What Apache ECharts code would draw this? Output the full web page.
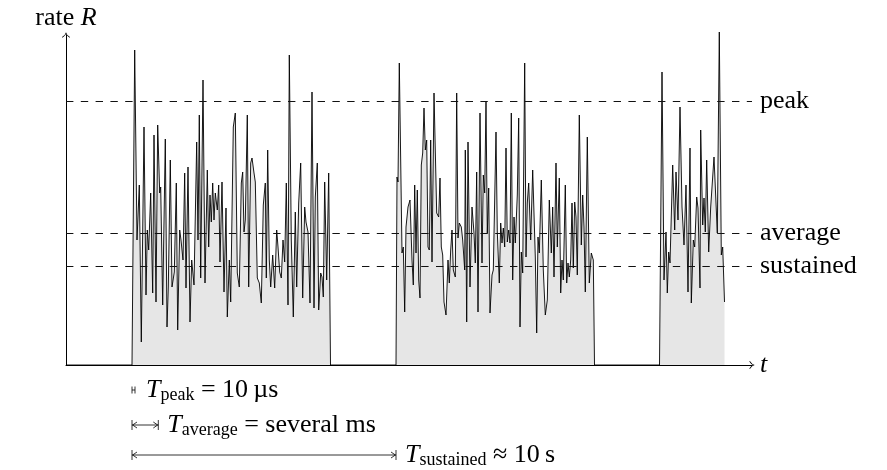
<!DOCTYPE html>
<html>
<head>
<meta charset="utf-8">
<script src="https://cdn.jsdelivr.net/npm/echarts@6/dist/echarts.min.js"></script>
<style>
  html, body { margin: 0; padding: 0; background: #fff; }
  #main { width: 887px; height: 470px; }
</style>
</head>
<body>
<div id="main"></div>
<script>
// rate trace, [t, R] pairs (one burst per array)
var idle = [[66, 0]];
var burst1 = [[132,0],[134.7,315],[137,125],[139.3,180],[141.3,23],[144,238],[146,70],[147.3,135],[148.7,115],[150.7,172],[152.7,72],[154,230],[156,63],[157.7,240],[159.7,172],[160.7,178],[162.7,60],[165.3,226],[167,38],[168.3,78],[170.3,205],[172,78],[174.3,93],[176.3,182],[177.7,35],[179.7,135],[181,125],[183,105],[184.7,192],[186,77],[188,198],[190,43],[191.7,105],[194,80],
  [196.7,223],[198,125],[199.3,250],[200.7,87],[203,285],[205,82],[207.3,195],[208.7,118],[210,170],[211.3,143],[212.7,182],[214,145],[215.3,172],[217.3,155],[218.7,180],[220,103],[222,183],[224,73],[226,157],[227.3,48],[229.3,105],[230.7,63],[233.3,238],[235.3,252],[237.3,92],[239.3,78],[241.3,182],[242.7,193],[244,133],[245.3,145],[247.3,250],[248.7,78],[250.7,202],[252,207],[254,192],[255.3,183],[257.3,87],[259.3,82],[261.3,62],[263.3,160],
  [265.3,182],[266.3,87],[267.7,215],[269.3,105],[270.7,78],[272.7,110],[274.7,77],[276.7,135],[278,118],[279.7,93],[281.3,87],[283,125],[284.7,103],[286.3,182],[288,60],[289.3,310],[291.3,125],[293.3,48],[295.3,153],[296.7,78],[298.7,162],[300.7,202],[302.7,67],[304.7,158],[306,143],[308,133],[310,62],[312,273],[314,57],[315.3,168],[317.3,202],[318.7,55],[320.7,92],[322,88],[323.3,68],[324.7,183],[326.7,85],[328.7,192],[330.5,0]];
var burst2 = [[396,0],[397,188],[398,183],[399.3,302],[402,112],[403.3,118],[404.7,53],[406,138],[408,158],[410,165],[412,105],[413.3,80],[414.7,180],[416,112],[417.3,175],[418.7,85],[420,67],[421.3,200],[422.7,212],[424,257],[425.3,215],[426.7,225],[428,118],[429.3,115],[430.7,225],[432,103],[434,272],[436.7,152],[438.7,148],[440,187],[441.3,118],[442.7,110],[444,63],[446,50],[448,105],[449.3,82],[450.7,115],[452,135],[453.3,95],[455.3,88],[456.7,272],[458,127],[459.3,142],
  [461.3,138],[462.7,125],[464.7,95],[465.3,215],[466.7,43],[468,223],[470,78],[472,158],[474,132],[475.3,102],[476.7,193],[478,53],[480,252],[482,102],[483.3,190],[484.7,172],[486,263],[487.3,132],[488.7,177],[490,52],[492,90],[493.3,95],[496,233],[497.3,133],[499.3,82],[500.7,142],[502,122],[503.3,137],[504.7,118],[506,217],[507.3,123],[508.7,135],[510,122],[511.3,252],[512.7,85],[514,148],[515.3,122],[517.3,170],[518.7,247],[520,38],[521.3,113],[522.7,92],[524.7,302],[526,108],[527.3,162],
  [528.7,182],[530.7,125],[532.7,195],[535.3,108],[536.7,32],[538,128],[539.3,112],[541.3,185],[543.3,95],[545.3,50],[547.3,65],[549.3,165],[551.3,112],[552.7,158],[554,88],[556,202],[557.3,118],[559.3,187],[560.7,72],[562,105],[563.3,85],[565.3,180],[566.7,82],[568,102],[569.3,88],[570.7,105],[572,162],[573.3,97],[574.7,163],[576,148],[577.3,90],[579.3,250],[581.3,120],[582.7,170],[584,138],[585.3,73],[587.3,228],[589.3,82],[591.3,112],[593.3,105],[594.5,0]];
var burst3 = [[659.5,0],[662,293],[664,85],[666,133],[667.3,72],[668.7,113],[670,102],[672.7,200],[674.7,135],[676,193],[678,145],[680,258],[682,158],[684,120],[686,180],[688,73],[690,217],[691.3,62],[693.3,125],[694.7,118],[696.7,168],[698,157],[700,77],[700.7,235],[702.7,140],[704,167],[705.3,133],[706.7,205],[708.7,113],[710.7,158],[714,208],[717.3,132],[719.3,333],[721.3,110],[722.7,118],[724.5,63]];

var levelNames = ['peak', 'average', 'sustained'];
var levelValues = [264, 132, 99];

// time spans under the axis, [from, to] on the t axis
var spans = [[132, 135], [132, 158.3], [132, 396]];
var spanTexts = [
  '{T|T}{s|peak}{r| = 10\u2009\u00b5s}',
  '{T|T}{s|average}{r| = several ms}',
  '{T|T}{s|sustained}{r| \u2248 10\u2009s}'
];

var serif = '"Liberation Serif", "Times New Roman", serif';
var arrowPath = 'path://M5 0 Q5.6 3.2 10 6 L9.5 6.7 Q6 4.6 5 2.2 Q4 4.6 0.5 6.7 L0 6 Q4.4 3.2 5 0 Z';

var chartDom = document.getElementById('main');
var myChart = echarts.init(chartDom, null, { renderer: 'canvas' });
var option;

var labelPad = [[0, 0, 0, 0], [0, 0, 5, 0], [7, 0, 0, 0]];

option = {
  animation: false,
  backgroundColor: '#fff',
  grid: { left: 66, top: 35, right: 135, bottom: 105 },
  xAxis: {
    type: 'value',
    min: 66,
    max: 752,
    name: 't',
    nameLocation: 'end',
    nameGap: 8,
    nameTextStyle: { fontFamily: serif, fontSize: 26, fontStyle: 'italic', color: '#000' },
    axisLine: {
      show: true,
      onZero: false,
      symbol: ['none', arrowPath],
      symbolSize: [8, 6],
      lineStyle: { color: '#000', width: 1 }
    },
    axisTick: { show: false },
    axisLabel: { show: false },
    splitLine: { show: false }
  },
  yAxis: {
    type: 'value',
    min: 0,
    max: 330,
    name: '{a|rate }{b|R}',
    nameLocation: 'end',
    nameGap: 4,
    nameTextStyle: {
      rich: {
        a: { fontFamily: serif, fontSize: 26, color: '#000' },
        b: { fontFamily: serif, fontSize: 26, fontStyle: 'italic', color: '#000' }
      }
    },
    axisLine: {
      show: true,
      onZero: false,
      symbol: ['none', arrowPath],
      symbolSize: [8, 6],
      lineStyle: { color: '#000', width: 1 }
    },
    axisTick: { show: false },
    axisLabel: { show: false },
    splitLine: { show: false }
  },
  series: [
    {
      type: 'line',
      data: idle.concat(burst1, burst2, burst3),
      showSymbol: false,
      clip: false,
      lineStyle: { color: '#000', width: 0.9 },
      areaStyle: { color: '#e6e6e6', opacity: 1 },
      markLine: {
        silent: true,
        symbol: 'none',
        lineStyle: { color: '#111', type: [7.4, 7.4], width: 1 },
        label: {
          position: 'end',
          distance: 8,
          fontFamily: serif,
          fontSize: 26,
          color: '#000'
        },
        data: levelNames.map(function (n, i) {
          return {
            name: n,
            yAxis: levelValues[i],
            label: { formatter: n, padding: labelPad[i] }
          };
        })
      }
    }
  ]
};

option && myChart.setOption(option);

// span arrows under the axis
var rowY = [390, 425, 455];
var gfx = [];
var ink = { stroke: '#000', lineWidth: 0.8, fill: null };
spans.forEach(function (s, i) {
  var x1 = myChart.convertToPixel({ xAxisIndex: 0 }, s[0]);
  var x2 = myChart.convertToPixel({ xAxisIndex: 0 }, s[1]);
  var y = rowY[i];
  var h = i === 0 ? 3.5 : 5;
  gfx.push({ type: 'line', shape: { x1: x1, y1: y, x2: x2, y2: y }, style: ink });
  gfx.push({ type: 'line', shape: { x1: x1, y1: y - h, x2: x1, y2: y + h }, style: ink });
  gfx.push({ type: 'line', shape: { x1: x2, y1: y - h, x2: x2, y2: y + h }, style: ink });
  if (x2 - x1 > 12) {
    gfx.push({ type: 'polyline', shape: { points: [[x1 + 5, y - 3], [x1 + 0.6, y], [x1 + 5, y + 3]] }, style: ink });
    gfx.push({ type: 'polyline', shape: { points: [[x2 - 5, y - 3], [x2 - 0.6, y], [x2 - 5, y + 3]] }, style: ink });
  }
  gfx.push({
    type: 'text',
    x: x2 + (i === 0 ? 11 : 9),
    y: y,
    style: {
      text: spanTexts[i],
      align: 'left',
      verticalAlign: 'middle',
      rich: {
        T: { fontFamily: serif, fontSize: 26, fontStyle: 'italic', fill: '#000', lineHeight: 28 },
        s: { fontFamily: serif, fontSize: 18, fill: '#000', lineHeight: 14, verticalAlign: 'bottom' },
        r: { fontFamily: serif, fontSize: 26, fill: '#000', lineHeight: 28 }
      }
    }
  });
});
myChart.setOption({ graphic: gfx });
</script>
</body>
</html>
